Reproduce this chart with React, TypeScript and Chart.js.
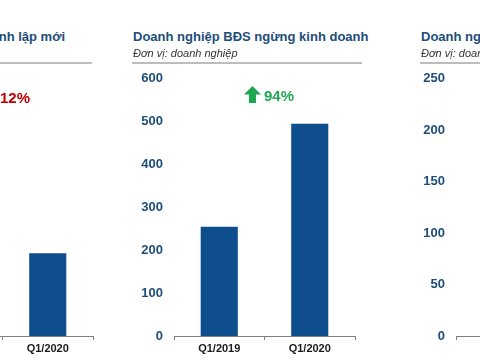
import React, { useEffect, useRef } from 'react';
import { Chart, registerables } from 'chart.js';

Chart.register(...registerables);

const CATEGORIES = ['Q1/2019', 'Q1/2020'];
const NEW_VALUES = [219, 193];
const STOPPED_VALUES = [255, 495];
const DISSOLVED_VALUES = [150, 205];

const NEW_TITLE = 'Doanh nghiệp BĐS thành lập mới';
const STOPPED_TITLE = 'Doanh nghiệp BĐS ngừng kinh doanh';
const DISSOLVED_TITLE = 'Doanh nghiệp BĐS giải thể';
const UNIT = 'Đơn vị: doanh nghiệp';
const NEW_CHANGE = '12%';
const STOPPED_CHANGE = '94%';

const FONT = '"Liberation Sans", Arial, Helvetica, sans-serif';
const BAR = '#0f4e8c';
const NAVY = '#1d4d79';
const GREEN = '#1fa650';
const RED = '#c00000';

type PanelProps = { left: number; values: number[]; max: number; step: number };

function BarPanel({ left, values, max, step }: PanelProps) {
  const ref = useRef<HTMLCanvasElement | null>(null);
  useEffect(() => {
    if (!ref.current) return;
    const chart = new Chart(ref.current, {
      type: 'bar',
      data: {
        labels: CATEGORIES,
        datasets: [
          {
            data: values,
            backgroundColor: BAR,
            borderWidth: 0,
            barPercentage: 0.41,
            categoryPercentage: 1,
          },
        ],
      },
      options: {
        animation: false,
        responsive: false,
        layout: { padding: { top: 2, right: 13, left: 0, bottom: 0 } },
        plugins: {
          legend: { display: false },
          tooltip: { enabled: false },
          title: { display: false },
        },
        scales: {
          x: {
            grid: {
              display: true,
              drawOnChartArea: false,
              drawTicks: true,
              tickLength: 4,
              color: '#7f7f7f',
              offset: true,
            },
            border: { display: true, color: '#7f7f7f', width: 1 },
            ticks: {
              color: '#1a1a1a',
              font: { family: FONT, size: 11, weight: 'bold' },
              padding: 2,
              maxRotation: 0,
            },
            afterFit: (s: any) => {
              s.height = 24;
            },
          },
          y: {
            min: 0,
            max,
            ticks: {
              stepSize: step,
              color: NAVY,
              font: { family: FONT, size: 13, weight: 'bold' },
              padding: 11,
            },
            grid: { display: false, drawTicks: false },
            border: { display: false },
            afterFit: (s: any) => {
              s.width = 46;
            },
          },
        },
      },
    } as any);
    return () => chart.destroy();
  }, [left, values, max, step]);
  return (
    <canvas
      ref={ref}
      width={240}
      height={300}
      style={{ position: 'absolute', left, top: 60, width: 240, height: 300, display: 'block' }}
    />
  );
}

function Arrow({ left, top, color, down }: { left: number; top: number; color: string; down?: boolean }) {
  return (
    <svg
      width={17}
      height={17}
      viewBox="0 0 17 17"
      style={{ position: 'absolute', left, top, transform: down ? 'rotate(180deg)' : undefined }}
    >
      <polygon points="8.5,0 17,8.5 12,8.5 12,17 5,17 5,8.5 0,8.5" fill={color} />
    </svg>
  );
}

const titleStyle: React.CSSProperties = {
  position: 'absolute',
  top: 29,
  fontFamily: FONT,
  fontSize: 13,
  fontWeight: 'bold',
  color: NAVY,
  whiteSpace: 'nowrap',
  lineHeight: '16px',
};
const unitStyle: React.CSSProperties = {
  position: 'absolute',
  top: 46,
  fontFamily: FONT,
  fontSize: 11,
  fontStyle: 'italic',
  color: '#333',
  whiteSpace: 'nowrap',
  lineHeight: '14px',
};
const ruleStyle: React.CSSProperties = {
  position: 'absolute',
  top: 62,
  height: 2,
  background: '#bdbdbd',
};
const changeStyle: React.CSSProperties = {
  position: 'absolute',
  fontFamily: FONT,
  fontSize: 15,
  fontWeight: 'bold',
  whiteSpace: 'nowrap',
  lineHeight: '18px',
};

export default function App() {
  return (
    <div
      style={{
        position: 'fixed',
        left: 0,
        top: 0,
        width: 480,
        height: 360,
        overflow: 'hidden',
        background: '#fff',
      }}
    >
      {/* charts first so the header rules sit above the transparent canvas */}
      <BarPanel left={-134} values={NEW_VALUES} max={600} step={100} />
      <BarPanel left={128} values={STOPPED_VALUES} max={600} step={100} />
      <BarPanel left={410} values={DISSOLVED_VALUES} max={250} step={50} />

      {/* left panel (cropped) */}
      <div style={{ ...titleStyle, right: 415 }}>{NEW_TITLE}</div>
      <div style={{ ...unitStyle, left: -155 }}>{UNIT}</div>
      <div style={{ ...ruleStyle, left: -160, width: 252 }} />
      <Arrow left={-20} top={89} color={RED} down />
      <div style={{ ...changeStyle, left: 0, top: 89, color: RED }}>{NEW_CHANGE}</div>

      {/* middle panel */}
      <div style={{ ...titleStyle, left: 133 }}>{STOPPED_TITLE}</div>
      <div style={{ ...unitStyle, left: 133 }}>{UNIT}</div>
      <div style={{ ...ruleStyle, left: 132, width: 230 }} />
      <Arrow left={244} top={86} color={GREEN} />
      <div style={{ ...changeStyle, left: 264, top: 87, color: GREEN }}>{STOPPED_CHANGE}</div>

      {/* right panel (cropped) */}
      <div style={{ ...titleStyle, left: 421 }}>{DISSOLVED_TITLE}</div>
      <div style={{ ...unitStyle, left: 421 }}>{UNIT}</div>
      <div style={{ ...ruleStyle, left: 420, width: 200 }} />
    </div>
  );
}
